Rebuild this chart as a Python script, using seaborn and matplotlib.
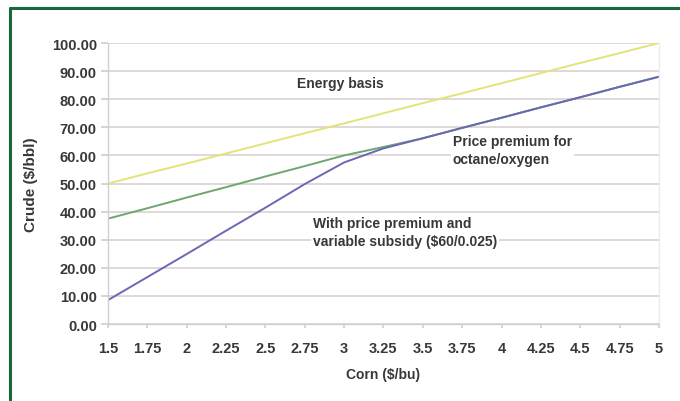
import matplotlib
matplotlib.use("Agg")
import matplotlib.pyplot as plt
import seaborn as sns
import pandas as pd
from matplotlib.lines import Line2D

corn = [1.5, 1.75, 2, 2.25, 2.5, 2.75, 3, 3.25, 3.5, 3.75, 4, 4.25, 4.5, 4.75, 5]
energy_basis = [50.0, 53.6, 57.1, 60.7, 64.3, 67.9, 71.4, 75.0, 78.6, 82.1, 85.7, 89.3, 92.9, 96.4, 100.0]
price_premium = [37.5, 41.2, 45.0, 48.7, 52.5, 56.2, 60.0, 63.0, 66.1, 69.8, 73.4, 77.1, 80.7, 84.4, 88.0]
with_subsidy = [8.5, 16.7, 24.9, 33.2, 41.4, 49.8, 57.5, 62.5, 66.1, 69.8, 73.4, 77.1, 80.7, 84.4, 88.0]
y_ticks = [0, 10, 20, 30, 40, 50, 60, 70, 80, 90, 100]

series_names = ["Energy basis", "Price premium for octane/oxygen",
                "With price premium and variable subsidy ($60/0.025)"]

df = pd.DataFrame({
    "Corn": corn * 3,
    "Crude": energy_basis + price_premium + with_subsidy,
    "Series": [series_names[0]] * len(corn) + [series_names[1]] * len(corn) + [series_names[2]] * len(corn),
})

sns.set_theme(style="white")
plt.rcParams['font.family'] = ['Liberation Sans', 'DejaVu Sans']

fig = plt.figure(figsize=(6.8, 4.02), dpi=100)
fig.patch.set_facecolor("white")
ax = fig.add_axes([0.1588, 0.1915, 0.8102, 0.699])

palette = {series_names[0]: "#e3e37a", series_names[1]: "#6fa66f", series_names[2]: "#6a68b4"}
sns.lineplot(data=df, x="Corn", y="Crude", hue="Series", palette=palette,
             linewidth=1.4, legend=False, ax=ax, sort=False)

TXT = "#383838"
ax.set_xlim(1.5, 5)
ax.set_ylim(0, 100)
ax.set_yticks(y_ticks)
ax.set_yticklabels([f"{v:.2f}" for v in y_ticks])
ax.set_xticks(corn)
ax.set_xticklabels([f"{v:g}" for v in corn])
ax.yaxis.grid(True, color="#dcd6d6", linewidth=1.3)
ax.set_axisbelow(True)
ax.spines["top"].set_visible(False)
ax.spines["right"].set_color("#ececec")
ax.spines["left"].set_color("#d0d0d0")
ax.spines["bottom"].set_color("#d0d0d0")
for sp in ax.spines.values():
    sp.set_linewidth(1.0)
ax.tick_params(axis="y", which="major", length=5, color="#d0d0d0", labelsize=10.5,
               labelcolor=TXT, pad=3, left=True)
ax.tick_params(axis="x", which="major", length=3, color="#d0d0d0", labelsize=10.5,
               labelcolor=TXT, pad=9, bottom=True)
for lab in ax.get_xticklabels() + ax.get_yticklabels():
    lab.set_fontweight("bold")

ax.set_xlabel("Corn ($/bu)", fontsize=10, fontweight="bold", color=TXT, labelpad=9)
ax.set_ylabel("Crude ($/bbl)", fontsize=11, fontweight="bold", color=TXT, labelpad=10)

box = dict(facecolor="white", edgecolor="none", pad=1.5)
ax.text(2.70, 85.8, "Energy basis", fontsize=10, fontweight="bold", color=TXT,
        va="center", ha="left", bbox=box)
ax.text(3.69, 61.9, "Price premium for\noctane/oxygen", fontsize=10, fontweight="bold",
        color=TXT, va="center", ha="left", linespacing=1.4, bbox=box)
ax.text(2.80, 32.7, "With price premium and\nvariable subsidy ($60/0.025)", fontsize=10,
        fontweight="bold", color=TXT, va="center", ha="left", linespacing=1.4, bbox=box)

# green frame
fig.add_artist(Line2D([10 / 680, 10 / 680], [0, 1 - 9 / 402], transform=fig.transFigure,
                      color="#16693a", linewidth=2.2))
fig.add_artist(Line2D([10 / 680, 1], [1 - 9 / 402, 1 - 9 / 402], transform=fig.transFigure,
                      color="#16693a", linewidth=2.2))

fig.savefig("out.png", dpi=100, facecolor="white")
